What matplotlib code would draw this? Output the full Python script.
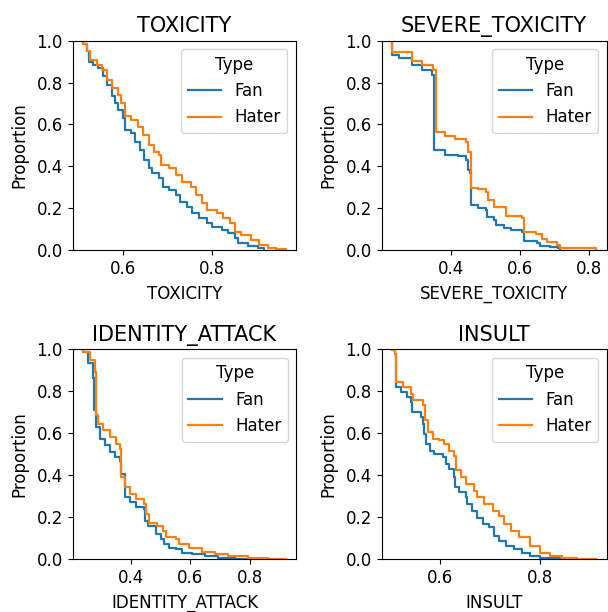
import matplotlib
matplotlib.use("Agg")
import matplotlib.pyplot as plt

plt.rcParams['font.family'] = ['DejaVu Sans']

metrics = ["TOXICITY", "SEVERE_TOXICITY", "IDENTITY_ATTACK", "INSULT"]
hue_levels = ["Fan", "Hater"]
colors = ["#1f77b4", "#ff7f0e"]

# Complementary ECDF step points: at x the proportion drops to y
tox_fan_x = [0.509, 0.518, 0.522, 0.533, 0.544, 0.555, 0.563, 0.574, 0.581, 0.589, 0.600, 0.603, 0.618, 0.626,
             0.637, 0.648, 0.659, 0.666, 0.681, 0.689, 0.703, 0.718, 0.729, 0.744, 0.755, 0.770, 0.789, 0.800,
             0.822, 0.837, 0.851, 0.859, 0.881, 0.903, 0.918]
tox_fan_y = [0.985, 0.949, 0.900, 0.885, 0.870, 0.830, 0.790, 0.734, 0.700, 0.670, 0.630, 0.574, 0.558, 0.518,
             0.478, 0.430, 0.390, 0.367, 0.343, 0.303, 0.287, 0.263, 0.231, 0.207, 0.175, 0.152, 0.128, 0.112,
             0.096, 0.080, 0.056, 0.032, 0.021, 0.011, 0.0]
tox_hater_x = [0.509, 0.518, 0.526, 0.541, 0.552, 0.563, 0.574, 0.589, 0.596, 0.603, 0.618, 0.633, 0.644, 0.659,
               0.670, 0.681, 0.685, 0.703, 0.718, 0.733, 0.752, 0.763, 0.777, 0.789, 0.811, 0.826, 0.840, 0.851,
               0.866, 0.889, 0.907, 0.926, 0.944, 0.966]
tox_hater_y = [0.985, 0.949, 0.909, 0.885, 0.861, 0.813, 0.774, 0.742, 0.700, 0.638, 0.622, 0.590, 0.550, 0.502,
               0.470, 0.455, 0.407, 0.390, 0.359, 0.327, 0.303, 0.263, 0.223, 0.191, 0.175, 0.152, 0.128, 0.088,
               0.072, 0.048, 0.024, 0.011, 0.003, 0.0]

sev_fan_x = [0.229, 0.250, 0.288, 0.316, 0.345, 0.350, 0.352, 0.383, 0.421, 0.445, 0.448, 0.454, 0.457, 0.478,
             0.502, 0.505, 0.526, 0.530, 0.554, 0.573, 0.607, 0.611, 0.650, 0.659, 0.688, 0.711, 0.716]
sev_fan_y = [0.933, 0.917, 0.885, 0.861, 0.837, 0.837, 0.478, 0.455, 0.447, 0.431, 0.383, 0.367, 0.215, 0.200,
             0.191, 0.159, 0.144, 0.120, 0.104, 0.096, 0.088, 0.043, 0.032, 0.021, 0.016, 0.008, 0.0]
sev_hater_x = [0.229, 0.232, 0.288, 0.316, 0.348, 0.350, 0.356, 0.383, 0.411, 0.445, 0.448, 0.457, 0.459, 0.478,
               0.502, 0.507, 0.526, 0.559, 0.607, 0.611, 0.645, 0.664, 0.678, 0.707, 0.716, 0.821]
sev_hater_y = [0.946, 0.946, 0.901, 0.882, 0.861, 0.861, 0.563, 0.547, 0.531, 0.518, 0.470, 0.439, 0.298, 0.292,
               0.279, 0.239, 0.207, 0.164, 0.155, 0.088, 0.075, 0.053, 0.040, 0.024, 0.011, 0.0]

ida_fan_x = [0.241, 0.259, 0.276, 0.278, 0.284, 0.298, 0.314, 0.331, 0.347, 0.364, 0.369, 0.380, 0.397, 0.419,
             0.446, 0.449, 0.460, 0.485, 0.501, 0.512, 0.529, 0.551, 0.573, 0.606, 0.649, 0.693, 0.748, 0.798]
ida_fan_y = [0.985, 0.933, 0.861, 0.710, 0.630, 0.574, 0.542, 0.510, 0.486, 0.470, 0.407, 0.295, 0.271, 0.247,
             0.239, 0.183, 0.159, 0.120, 0.096, 0.072, 0.056, 0.048, 0.032, 0.024, 0.016, 0.008, 0.003, 0.0]
ida_hater_x = [0.241, 0.265, 0.281, 0.285, 0.292, 0.309, 0.331, 0.353, 0.366, 0.369, 0.380, 0.397, 0.419, 0.446,
               0.452, 0.463, 0.490, 0.507, 0.518, 0.551, 0.562, 0.595, 0.639, 0.682, 0.726, 0.792, 0.858, 0.919]
ida_hater_y = [0.985, 0.949, 0.893, 0.686, 0.646, 0.614, 0.582, 0.550, 0.526, 0.391, 0.343, 0.311, 0.287, 0.263,
               0.215, 0.175, 0.159, 0.136, 0.107, 0.096, 0.072, 0.053, 0.037, 0.024, 0.014, 0.008, 0.003, 0.0]

ins_fan_x = [0.505, 0.512, 0.514, 0.524, 0.534, 0.543, 0.545, 0.563, 0.566, 0.568, 0.573, 0.580, 0.589, 0.606,
             0.613, 0.619, 0.629, 0.630, 0.639, 0.652, 0.655, 0.665, 0.675, 0.685, 0.698, 0.708, 0.718, 0.731,
             0.747, 0.764, 0.780, 0.800, 0.839]
ins_fan_y = [0.995, 0.980, 0.821, 0.797, 0.773, 0.750, 0.700, 0.678, 0.646, 0.598, 0.550, 0.518, 0.502, 0.486,
             0.455, 0.431, 0.391, 0.343, 0.319, 0.295, 0.263, 0.231, 0.199, 0.167, 0.152, 0.112, 0.088, 0.064,
             0.048, 0.032, 0.016, 0.008, 0.0]
ins_hater_x = [0.505, 0.512, 0.514, 0.527, 0.543, 0.547, 0.566, 0.570, 0.576, 0.586, 0.599, 0.609, 0.619, 0.628,
               0.632, 0.642, 0.652, 0.668, 0.675, 0.688, 0.705, 0.718, 0.728, 0.741, 0.757, 0.780, 0.800, 0.820,
               0.843, 0.872, 0.911]
ins_hater_y = [0.995, 0.980, 0.845, 0.821, 0.789, 0.758, 0.734, 0.662, 0.606, 0.574, 0.566, 0.550, 0.518, 0.494,
               0.423, 0.391, 0.359, 0.327, 0.295, 0.263, 0.231, 0.207, 0.167, 0.136, 0.104, 0.064, 0.032, 0.016,
               0.008, 0.003, 0.0]

data = {
    "TOXICITY": [(tox_fan_x, tox_fan_y), (tox_hater_x, tox_hater_y)],
    "SEVERE_TOXICITY": [(sev_fan_x, sev_fan_y), (sev_hater_x, sev_hater_y)],
    "IDENTITY_ATTACK": [(ida_fan_x, ida_fan_y), (ida_hater_x, ida_hater_y)],
    "INSULT": [(ins_fan_x, ins_fan_y), (ins_hater_x, ins_hater_y)],
}
xticks = {
    "TOXICITY": [0.6, 0.8],
    "SEVERE_TOXICITY": [0.4, 0.6, 0.8],
    "IDENTITY_ATTACK": [0.4, 0.6, 0.8],
    "INSULT": [0.6, 0.8],
}

W, H = 608, 612
fig = plt.figure(figsize=(W / 100, H / 100), dpi=100)
boxes = [(72.7, 40.7, 295.7, 250), (381.7, 40.7, 606.5, 250),
         (72.7, 349.3, 296.2, 559.3), (381.7, 349.3, 606.5, 559.3)]

for m, (l, t, r, b) in zip(metrics, boxes):
    ax = fig.add_axes([l / W, 1 - b / H, (r - l) / W, (b - t) / H])
    for (xs, ys), lab, c in zip(data[m], hue_levels, colors):
        px = [xs[0]] + list(xs)
        py = [1.0] + list(ys)
        ax.plot(px, py, drawstyle="steps-post", color=c, lw=1.6, label=lab)
    allx = [v for xs, _ in data[m] for v in xs]
    lo, hi = min(allx), max(allx)
    pad = 0.05 * (hi - lo)
    ax.set_xlim(lo - pad, hi + pad)
    ax.set_ylim(0, 1)
    ax.set_xticks(xticks[m])
    ax.set_yticks([0, 0.2, 0.4, 0.6, 0.8, 1.0])
    ax.tick_params(labelsize=12)
    ax.set_title(m, fontsize=15)
    ax.set_xlabel(m, fontsize=12, labelpad=5)
    ax.set_ylabel("Proportion", fontsize=12, labelpad=6)
    ax.legend(title="Type", loc="upper right", fontsize=12, title_fontsize=12)

fig.savefig("out.png", dpi=100)
